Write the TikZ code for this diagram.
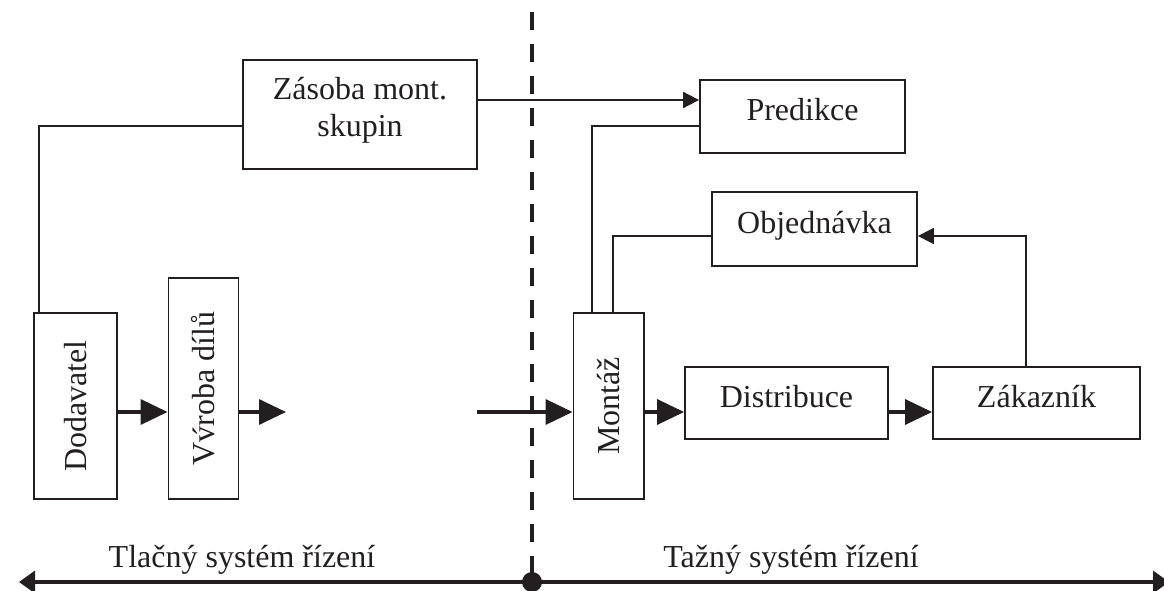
\documentclass[tikz,border=0pt]{standalone}
\usepackage{fontspec}
\setmainfont{Liberation Serif}
\usetikzlibrary{arrows.meta}
\definecolor{ink}{HTML}{231F20}
\tikzset{
  box/.style={draw=ink, text=ink, line width=1.8pt, inner sep=0pt, align=center},
  lbl/.style={text height=22pt, text depth=14pt},
  bigarrow/.style={draw=ink, line width=3.4pt, -{Triangle[length=27pt,width=25pt]}},
  thinline/.style={draw=ink, line width=1.8pt},
  thinarrow/.style={thinline, -{Triangle[length=16pt,width=16pt]}},
  axisline/.style={draw=ink, line width=3.4pt},
  divider/.style={draw=ink, line width=4.6pt, dash pattern=on 18pt off 14pt},
  caption/.style={text=ink, anchor=base, inner sep=0pt}
}
\begin{document}
\begin{tikzpicture}[x=1pt, y=-1pt, font=\fontsize{32}{37}\selectfont]
\useasboundingbox (0,0) rectangle (1164,591);

% boxes
\node[box, text height=60pt, text depth=15pt, minimum width=234pt, minimum height=109pt] (zasoba) at (360,114.5) {Zásoba mont.\\skupin};
\node[box, lbl, minimum width=205pt, minimum height=73pt] (predikce) at (802.5,116.5) {Predikce};
\node[box, lbl, minimum width=205pt, minimum height=74pt] (objednavka) at (814.5,229) {Objednávka};
\node[box, rotate=90, minimum width=186pt, minimum height=83pt] (dodavatel) at (75.5,406) {Dodavatel};
\node[box, rotate=90, minimum width=221pt, minimum height=70pt] (vyroba) at (203.5,388.5) {V\'vroba dílů};
\node[box, rotate=90, minimum width=186pt, minimum height=70.5pt] (montaz) at (608.75,406) {Montáž};
\node[box, lbl, minimum width=203pt, minimum height=72pt] (distribuce) at (786.5,403) {Distribuce};
\node[box, lbl, minimum width=207pt, minimum height=72pt] (zakaznik) at (1036.5,403) {Zákazník};

% helper coordinates
\coordinate (flowy) at (0,412);
\coordinate (vout) at (286,412);
\coordinate (min) at (477,412);
\coordinate (py) at (0,100);
\coordinate (zy) at (0,126);
\coordinate (dx) at (39,0);
\coordinate (mx1) at (592,0);
\coordinate (mx2) at (613,0);
\coordinate (oy) at (0,236);
\coordinate (zx) at (1026,0);
\coordinate (dtop) at (532,12);
\coordinate (aleft) at (19,582);
\coordinate (aright) at (1169,582);

% main flow
\draw[bigarrow] (dodavatel.south |- flowy) -- (vyroba.north |- flowy);
\draw[bigarrow] (vyroba.south |- flowy) -- (vout);
\draw[bigarrow] (min) -- (montaz.north |- flowy);
\draw[bigarrow] (montaz.south |- flowy) -- (distribuce.west |- flowy);
\draw[bigarrow] (distribuce.east |- flowy) -- (zakaznik.west |- flowy);

% information lines
\draw[thinarrow] (zasoba.east |- py) -- (predikce.west |- py);
\draw[thinline] (zasoba.west |- zy) -| (dx |- dodavatel.east);
\draw[thinline] (mx1 |- montaz.east) |- (predikce.west |- zy);
\draw[thinline] (mx2 |- montaz.east) |- (objednavka.west |- oy);
\draw[thinarrow] (zx |- zakaznik.north) |- (objednavka.east |- oy);

% divider and axis
\node[circle, fill=ink, inner sep=0pt, minimum size=20pt] (hub) at (532,582) {};
\draw[divider] (dtop) -- (hub.center);
\draw[axisline, -{Triangle[length=16pt,width=22pt]}] (hub.center) -- (aleft);
\draw[axisline, -{Triangle[length=16pt,width=22pt]}] (hub.center) -- (aright);

\node[caption] (push) at (242,567) {Tlačný systém řízení};
\node[caption] (pull) at (791,567) {Tažný systém řízení};
\end{tikzpicture}
\end{document}
